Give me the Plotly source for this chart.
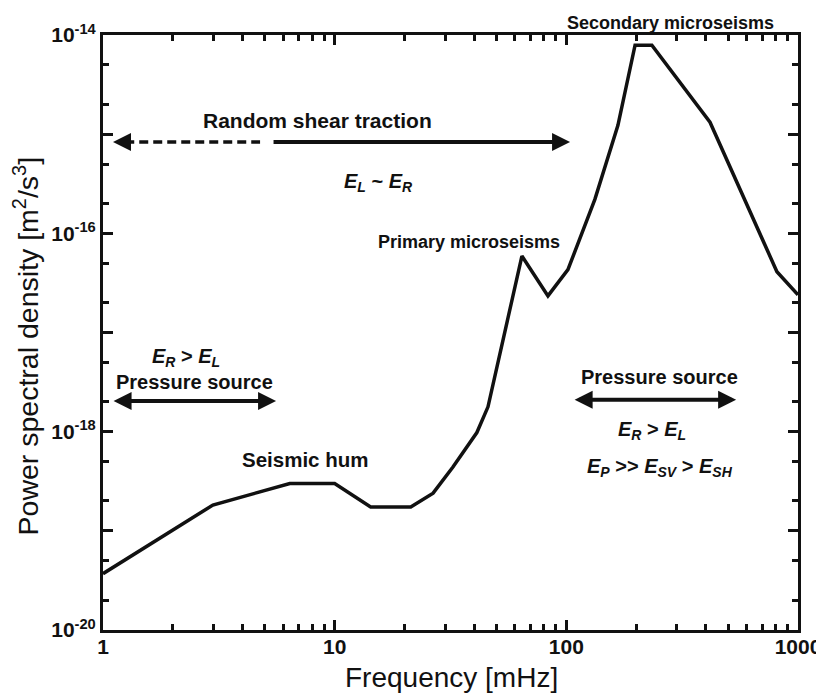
import plotly.graph_objects as go

# curve: frequency [mHz] and PSD [m^2/s^3]
freq = [1, 2.98, 6.4, 10, 14.3, 21.3, 26.6, 32.4, 41.1, 45.9, 64.3, 83.3,
        101.6, 132.8, 167, 198, 234, 417, 811, 1000]
psd = [3.7e-20, 1.82e-19, 3.0e-19, 3.0e-19, 1.74e-19, 1.74e-19, 2.4e-19,
       4.4e-19, 9.8e-19, 1.78e-18, 5.9e-17, 2.34e-17, 4.3e-17, 2.2e-16,
       1.23e-15, 7.9e-15, 7.9e-15, 1.32e-15, 4.1e-17, 2.4e-17]

x_ticks = [1, 10, 100, 1000]
x_ticktext = ["<b>1</b>", "<b>10</b>", "<b>100</b>", "<b>1000</b>"]
y_ticks = [1e-20, 1e-19, 1e-18, 1e-17, 1e-16, 1e-15, 1e-14]
y_ticktext = ["<b>10<sup>-20</sup></b>", "", "<b>10<sup>-18</sup></b>", "",
              "<b>10<sup>-16</sup></b>", "", "<b>10<sup>-14</sup></b>"]

FONT = "Liberation Sans, Arial, sans-serif"

fig = go.Figure()
fig.add_trace(go.Scatter(x=freq, y=psd, mode="lines",
                         line=dict(color="#111111", width=3.5),
                         showlegend=False, hoverinfo="skip"))

axis_common = dict(showgrid=False, zeroline=False, showline=True,
                   linecolor="#111111", linewidth=3, ticks="inside",
                   tickcolor="#111111", tickwidth=2.5, ticklen=10,
                   mirror="ticks", automargin=False)

fig.update_xaxes(type="log", range=[0, 3], tickmode="array",
                 tickvals=x_ticks, ticktext=x_ticktext, ticklabelstandoff=-4,
                 tickfont=dict(family=FONT, size=21, color="#111111"),
                 minor=dict(dtick="D1", ticks="inside", ticklen=6,
                            tickwidth=2.5, tickcolor="#111111"),
                 **axis_common)
fig.update_yaxes(type="log", range=[-20, -14], tickmode="array",
                 tickvals=y_ticks, ticktext=y_ticktext,
                 tickfont=dict(family=FONT, size=21, color="#111111"),
                 minor=dict(dtick="D2", ticks="inside", ticklen=6,
                            tickwidth=2.5, tickcolor="#111111"),
                 **axis_common)


def label(x, y, text, size=19, angle=0):
    fig.add_annotation(x=x, y=y, xref="paper", yref="paper", text=text,
                       showarrow=False, xanchor="center", yanchor="middle",
                       textangle=angle,
                       font=dict(family=FONT, size=size, color="#111111"))


def e(sym, sub):
    return "<b><i>%s</i></b><sub><b><i>%s</i></b></sub>" % (sym, sub)


# axis titles
label(0.502, -0.080, "Frequency [mHz]", 28)
label(-0.111, 0.478, "Power spectral density [m<sup>2</sup>/s<sup>3</sup>]",
      28.5, angle=-90)

label(0.308, 0.857, "<b>Random shear traction</b>", 21)
label(0.397, 0.752, e("E", "L") + "<b> ~ </b>" + e("E", "R"), 20)
label(0.527, 0.652, "<b>Primary microseisms</b>", 18)
label(0.816, 1.020, "<b>Secondary microseisms</b>", 18)
label(0.120, 0.458, e("E", "R") + "<b> &gt; </b>" + e("E", "L"), 20)
label(0.131, 0.417, "<b>Pressure source</b>", 20)
label(0.291, 0.287, "<b>Seismic hum</b>", 20.5)
label(0.800, 0.425, "<b>Pressure source</b>", 20)
label(0.790, 0.335, e("E", "R") + "<b> &gt; </b>" + e("E", "L"), 20)
label(0.801, 0.273, e("E", "P") + "<b> &gt;&gt; </b>" + e("E", "SV")
      + "<b> &gt; </b>" + e("E", "SH"), 20)

arrow = dict(xref="paper", yref="paper", text="", showarrow=True,
             arrowcolor="#111111", arrowwidth=4, arrowhead=2, arrowsize=0.9,
             standoff=0, startstandoff=0, ay=0)

# random shear traction: solid part pointing right
fig.add_annotation(x=0.672, y=0.820, ax=-298, **arrow)
# dashed part pointing left
fig.add_shape(type="line", xref="paper", yref="paper",
              x0=0.032, x1=0.226, y0=0.820, y1=0.820,
              line=dict(color="#111111", width=3.5, dash="9px,5px"))
fig.add_annotation(x=0.0144, y=0.820, ax=16, **arrow)
# pressure source double arrows
fig.add_annotation(x=0.249, y=0.385, ax=-164, arrowside="end+start",
                   startarrowhead=2, startarrowsize=0.9, **arrow)
fig.add_annotation(x=0.911, y=0.387, ax=-163, arrowside="end+start",
                   startarrowhead=2, startarrowsize=0.9, **arrow)

# the page puts the figure 8px in from the top-left corner, so size it to fit
fig.update_layout(width=816, height=687,
                  margin=dict(l=95, r=26, t=27, b=65),
                  plot_bgcolor="white", paper_bgcolor="white",
                  font=dict(family=FONT, color="#111111"))

fig.write_html("out.html")
